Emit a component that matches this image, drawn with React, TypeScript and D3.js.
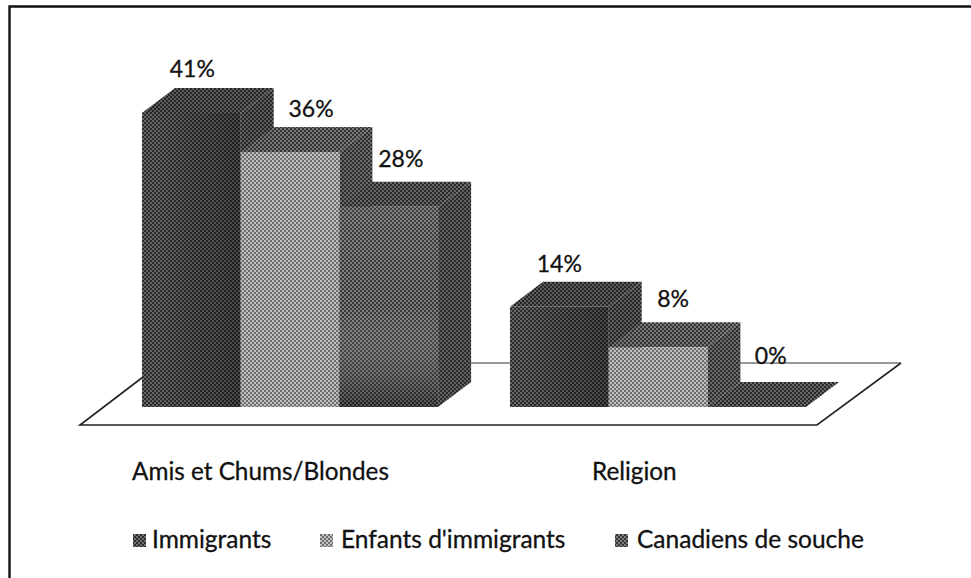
import React from "react";
import * as d3 from "d3";

const categories = ["Amis et Chums/Blondes", "Religion"];
const seriesNames = ["Immigrants", "Enfants d'immigrants", "Canadiens de souche"];
const immigrants = [41.4, 14.1];
const enfants = [35.9, 8.4];
const canadiens = [28.2, 0];
const seriesValues = [immigrants, enfants, canadiens];

const W = 971, H = 578;
const FONT = "Lato, Carlito, Calibri, sans-serif";
const baseY = 407, depthX = 33, depthY = 25;
const y = d3.scaleLinear().domain([0, 41.4]).range([baseY, 113]);
const groupStart = [142, 510];
const barW = 98.7;
const labelDx = [[1, 21, 12], [0, 15, 14]];
const labelDy = [[-11, -10, -15], [-10, -15, -18]];
const catX = [132, 592];
const legendSwatch = [133, 320, 615];
const legendText = [152, 341, 637];

const tones = [
  { front: ["#2e2e2e", "#6e6e6e"], side: ["#262626", "#5e5e5e"], top: ["#262626", "#5c5c5c"] },
  { front: ["#6e6e6e", "#c0c0c0"], side: ["#2e2e2e", "#6a6a6a"], top: ["#333333", "#787878"] },
  { front: ["#363636", "#7c7c7c"], side: ["#2a2a2a", "#606060"], top: ["#2a2a2a", "#666666"] },
];
const faces = ["front", "side", "top"] as const;

function Dither({ id, c }: { id: string; c: string[] }) {
  return (
    <pattern id={id} patternUnits="userSpaceOnUse" width={4} height={4}>
      <rect width={4} height={4} fill={c[0]} />
      <rect x={0} y={0} width={2} height={2} fill={c[1]} />
      <rect x={2} y={2} width={2} height={2} fill={c[1]} />
    </pattern>
  );
}

const poly = (p: number[][]) => d3.line()(p as [number, number][]) + "Z";

export default function App() {
  return (
    <svg width={W} height={H} style={{ position: "fixed", left: 0, top: 0, background: "#fff" }} fontFamily={FONT} fill="#111">
      <defs>
        {tones.map((t, s) => faces.map((f) => <Dither key={f + s} id={`d-${f}-${s}`} c={t[f]} />))}
        <linearGradient id="shadeA" x1="0" x2="1" y1="0" y2="0">
          <stop offset="0" stopColor="#000" stopOpacity="0.05" />
          <stop offset="0.55" stopColor="#000" stopOpacity="0.22" />
          <stop offset="1" stopColor="#000" stopOpacity="0.35" />
        </linearGradient>
        <linearGradient id="shadeB" x1="0" x2="0" y1="0" y2="1">
          <stop offset="0" stopColor="#fff" stopOpacity="0.05" />
          <stop offset="0.5" stopColor="#fff" stopOpacity="0" />
          <stop offset="1" stopColor="#000" stopOpacity="0.35" />
        </linearGradient>
      </defs>

      <path d="M9.5,578V6.5H971" fill="none" stroke="#111" strokeWidth={2.4} />

      <path d={d3.line()([[901, 363], [817, 425], [80, 425], [143, 377]]) ?? ""} fill="none" stroke="#222" strokeWidth={1.6} />
      <path d={d3.line()([[143, 363], [901, 363]]) ?? ""} fill="none" stroke="#333" strokeWidth={1.2} />

      {categories.map((_, g) => seriesValues.map((vals, s) => {
        const x0 = groupStart[g] + s * barW;
        const x1 = x0 + barW;
        const yTop = y(vals[g]);
        return (
          <g key={`${g}-${s}`}>
            <path d={poly([[x1, baseY], [x1 + depthX, baseY - depthY], [x1 + depthX, yTop - depthY], [x1, yTop]])} fill={`url(#d-side-${s})`} />
            <path d={poly([[x0, yTop], [x0 + depthX, yTop - depthY], [x1 + depthX, yTop - depthY], [x1, yTop]])} fill={`url(#d-top-${s})`} />
            {vals[g] > 0 && <rect x={x0} y={yTop} width={barW} height={baseY - yTop} fill={`url(#d-front-${s})`} />}
            {vals[g] > 0 && s !== 1 && <rect x={x0} y={yTop} width={barW} height={baseY - yTop} fill={s === 0 ? "url(#shadeA)" : "url(#shadeB)"} />}
          </g>
        );
      }))}

      <g stroke="#111" strokeWidth={0.3}>
        {categories.map((_, g) => seriesValues.map((vals, s) => (
          <text key={`l${g}${s}`} x={groupStart[g] + s * barW + barW / 2 + labelDx[g][s]}
            y={y(vals[g]) - depthY + labelDy[g][s]} textAnchor="middle" fontSize={23}>
            {Math.round(vals[g])}%
          </text>
        )))}

        {categories.map((c, g) => (
          <text key={c} x={catX[g]} y={480} fontSize={24.3}>{c}</text>
        ))}

        {seriesNames.map((n, s) => (
          <g key={n}>
            <rect x={legendSwatch[s]} y={534} width={13} height={13} stroke="none" fill={`url(#d-front-${s})`} />
            <text x={legendText[s]} y={548} fontSize={24.5}>{n}</text>
          </g>
        ))}
      </g>
    </svg>
  );
}
